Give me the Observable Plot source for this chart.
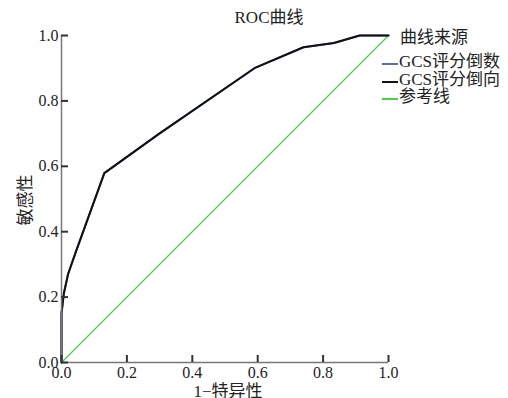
<!DOCTYPE html>
<html><head><meta charset="utf-8">
<script src="https://cdn.jsdelivr.net/npm/d3@7"></script>
<script src="https://cdn.jsdelivr.net/npm/@observablehq/plot@0.6"></script>
<style>
body{margin:0;background:#fff;}
#wrap{position:relative;width:508px;height:398px;font-family:"Liberation Serif","Noto Sans CJK SC",serif;color:#222;}
.ov{position:absolute;white-space:nowrap;font-size:17px;line-height:18px;}
.sw{display:inline-block;width:16px;height:0;border-top:2px solid;vertical-align:middle;margin-right:1px;position:relative;top:1px;}
</style></head>
<body><div id="wrap"></div>
<script>
const title = "ROC曲线";
const xLabel = "1−特异性";
const yLabel = "敏感性";
const legendTitle = "曲线来源";
const seriesNames = ["GCS评分倒数", "GCS评分倒向", "参考线"];
const seriesColors = ["#5a6db5", "#111111", "#4ccf4c"];
const ticks = [0, 0.2, 0.4, 0.6, 0.8, 1.0];
const fpr = [0, 0, 0.007, 0.02, 0.043, 0.131, 0.298, 0.59, 0.74, 0.833, 0.912, 1.0];
const tpr = [0, 0.15, 0.21, 0.27, 0.336, 0.579, 0.699, 0.9, 0.964, 0.977, 1.0, 1.0];
const refX = [0, 1];
const refY = [0, 1];

const rocData = fpr.map((x, i) => ({x, y: tpr[i]}));
const refData = refX.map((x, i) => ({x, y: refY[i]}));

const plot = Plot.plot({
  width: 508, height: 398,
  marginLeft: 61, marginRight: 120, marginTop: 35, marginBottom: 36,
  x: {domain: [0, 1]},
  y: {domain: [0, 1]},
  style: {fontFamily: '"Liberation Serif","Noto Sans CJK SC",serif', fontSize: "16px", color: "#222", background: "transparent"},
  marks: [
    Plot.line(refData, {x: "x", y: "y", stroke: seriesColors[2], strokeWidth: 1.3}),
    Plot.line(rocData, {x: "x", y: "y", stroke: seriesColors[0], strokeWidth: 2}),
    Plot.line(rocData, {x: "x", y: "y", stroke: seriesColors[1], strokeWidth: 2}),
    Plot.ruleX([0], {stroke: "#777", strokeWidth: 1.5}),
    Plot.ruleY([0], {stroke: "#777", strokeWidth: 1.5}),
    Plot.axisX(ticks, {tickSize: 7, dy: -7, tickFormat: () => "", label: null, stroke: "#333", strokeWidth: 2}),
    Plot.axisY(ticks, {tickSize: 7, dx: 7, tickFormat: () => "", label: null, stroke: "#333", strokeWidth: 2}),
    Plot.axisX(ticks, {tickSize: 0, tickPadding: 4, tickFormat: d3.format(".1f"), label: null, fill: "#222", fontSize: 16}),
    Plot.axisY(ticks, {tickSize: 0, tickPadding: 3, tickFormat: d3.format(".1f"), label: null, fill: "#222", fontSize: 16})
  ]
});
const wrap = document.getElementById("wrap");
wrap.appendChild(plot);
plot.style.position = "absolute"; plot.style.left = "0"; plot.style.top = "0";

function ov(html, css) {
  const d = document.createElement("div");
  d.className = "ov"; d.innerHTML = html;
  Object.assign(d.style, css);
  wrap.appendChild(d);
  return d;
}
ov(title, {left: "269px", top: "9px", transform: "translateX(-50%)"});
ov(xLabel, {left: "228px", top: "383px", transform: "translateX(-50%)"});
ov(yLabel, {left: "26px", top: "200px", transform: "translate(-50%,-50%) rotate(-90deg)"});
ov(legendTitle, {left: "400px", top: "29px"});
seriesNames.forEach((n, i) => {
  ov(`<span class="sw" style="border-color:${seriesColors[i]}"></span>${n}`, {left: "382px", top: (53 + i * 17.5) + "px"});
});
</script></body></html>
